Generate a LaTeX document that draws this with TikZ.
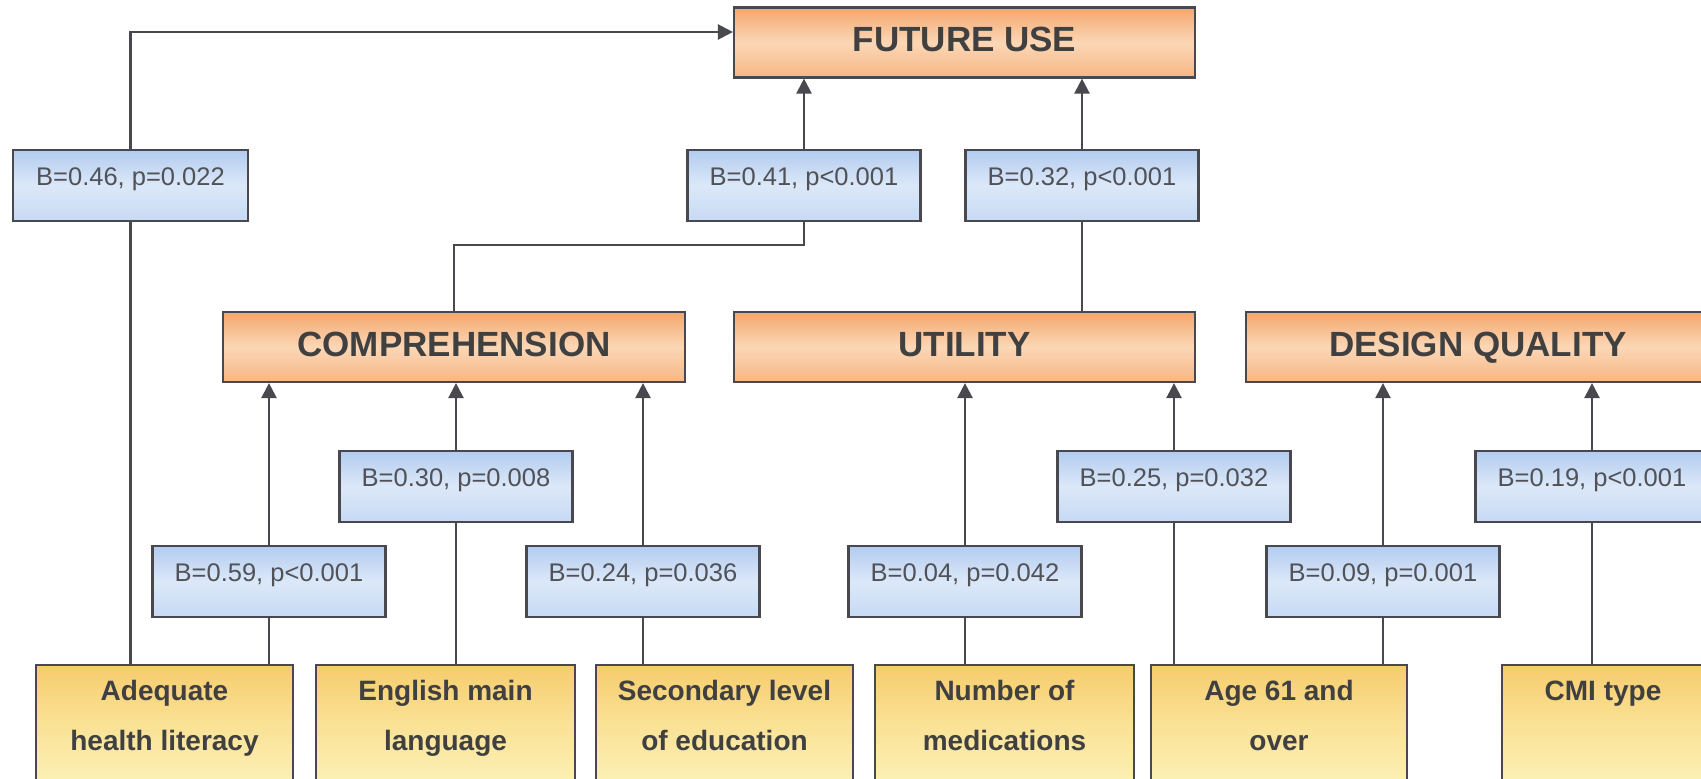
\documentclass[tikz,border=0pt]{standalone}
\usepackage{fontspec}
\setmainfont{Liberation Sans}
\usetikzlibrary{arrows.meta,calc}
\definecolor{linecol}{RGB}{72,72,78}
\definecolor{txtcol}{RGB}{64,64,64}
\definecolor{bltxt}{RGB}{80,82,88}
\definecolor{orTop}{RGB}{244,166,108}
\definecolor{orMid}{RGB}{251,215,182}
\definecolor{orBot}{RGB}{246,182,132}
\definecolor{blTop}{RGB}{178,204,240}
\definecolor{blMid}{RGB}{220,232,248}
\definecolor{blBot}{RGB}{198,218,244}
\definecolor{yeTop}{RGB}{246,204,108}
\definecolor{yeMid}{RGB}{250,226,150}
\definecolor{yeBot}{RGB}{252,241,182}
\begin{document}
\begin{tikzpicture}[x=1pt,y=-1pt,
  box/.style={draw=linecol, line width=2.2pt, rectangle, inner sep=0pt},
  head/.style={box, minimum width=462pt, minimum height=70pt,
    top color=orTop, bottom color=orBot, middle color=orMid, text=txtcol,
    font=\fontsize{35}{42}\selectfont\bfseries, text height=18pt, text depth=0pt},
  coef/.style={box, minimum width=233pt, minimum height=71pt,
    top color=blTop, bottom color=blBot, middle color=blMid, text=bltxt,
    font=\fontsize{25.5}{30}\selectfont, text height=0pt, text depth=0pt},
  factor/.style={box, minimum width=258pt, minimum height=120pt,
    top color=yeTop, bottom color=yeBot, middle color=yeMid, text=txtcol,
    font=\fontsize{28}{50}\selectfont\bfseries, text height=0pt, text depth=50pt},
  conn/.style={draw=linecol, line width=2.4pt},
  arr/.style={conn, -{Triangle[width=15pt,length=15pt]}}
]
\useasboundingbox (0,0) rectangle (1701,779);
\fill[white] (0,0) rectangle (1701,779);
\clip (0,0) rectangle (1701,779);

% outcome
\node[head, minimum width=461pt] (FU) at (964.5,42.5) {FUTURE USE};
% mediators
\node[head] (COMP) at (454,347) {COMPREHENSION};
\node[head, minimum width=461pt] (UT) at (964.5,347) {UTILITY};
\node[head, minimum width=464pt] (DQ) at (1478,347) {DESIGN QUALITY};

% predictors
\node[factor, minimum width=257pt] (Adequate) at (164.5,725) {\begin{tabular}[t]{@{}c@{}}Adequate\\health literacy\end{tabular}};
\node[factor, minimum width=259pt] (English) at (445.5,725) {\begin{tabular}[t]{@{}c@{}}English main\\language\end{tabular}};
\node[factor, minimum width=257pt] (Secondary) at (724.5,725) {\begin{tabular}[t]{@{}c@{}}Secondary level\\of education\end{tabular}};
\node[factor, minimum width=259pt] (Number) at (1004.5,725) {\begin{tabular}[t]{@{}c@{}}Number of\\medications\end{tabular}};
\node[factor, minimum width=256pt] (Age) at (1279,725) {\begin{tabular}[t]{@{}c@{}}Age 61 and\\over\end{tabular}};
\node[factor, minimum width=202pt] (CMI) at (1603,725) {\begin{tabular}[t]{@{}c@{}}CMI type\end{tabular}};

% coefficients
\node[coef, minimum width=235pt] (B046) at (130.5,185.5) {B=0.46, p=0.022};
\node[coef] (B041) at (804,185.5) {B=0.41, p<0.001};
\node[coef] (B032) at (1082,185.5) {B=0.32, p<0.001};
\node[coef] (B030) at (456,486.5) {B=0.30, p=0.008};
\node[coef] (B025) at (1174,486.5) {B=0.25, p=0.032};
\node[coef] (B019) at (1592,486.5) {B=0.19, p<0.001};
\node[coef] (B059) at (269,581.5) {B=0.59, p<0.001};
\node[coef] (B024) at (643,581.5) {B=0.24, p=0.036};
\node[coef] (B004) at (965,581.5) {B=0.04, p=0.042};
\node[coef] (B009) at (1383,581.5) {B=0.09, p=0.001};

% connectors
\draw[conn] (B046.south) -- (B046.south |- Adequate.north);
\draw[arr] (B046.north) |- ([yshift=10.5pt]FU.west);
\draw[conn] (B059.south) -- (B059.south |- Adequate.north);
\draw[arr] (B059.north) -- (B059.north |- COMP.south);
\draw[conn] (B030.south) -- (B030.south |- English.north);
\draw[arr] (B030.north) -- (B030.north |- COMP.south);
\draw[conn] (B024.south) -- (B024.south |- Secondary.north);
\draw[arr] (B024.north) -- (B024.north |- COMP.south);
\draw[conn] (B004.south) -- (B004.south |- Number.north);
\draw[arr] (B004.north) -- (B004.north |- UT.south);
\draw[conn] (B025.south) -- (B025.south |- Age.north);
\draw[arr] (B025.north) -- (B025.north |- UT.south);
\draw[conn] (B009.south) -- (B009.south |- Age.north);
\draw[arr] (B009.north) -- (B009.north |- DQ.south);
\draw[conn] (B019.south) -- (B019.south |- CMI.north);
\draw[arr] (B019.north) -- (B019.north |- DQ.south);
\draw[conn] (B041.south) -- ++(0,23) -| (COMP.north);
\draw[arr] (B041.north) -- (B041.north |- FU.south);
\draw[conn] (B032.south) -- (B032.south |- UT.north);
\draw[arr] (B032.north) -- (B032.north |- FU.south);
\end{tikzpicture}
\end{document}
